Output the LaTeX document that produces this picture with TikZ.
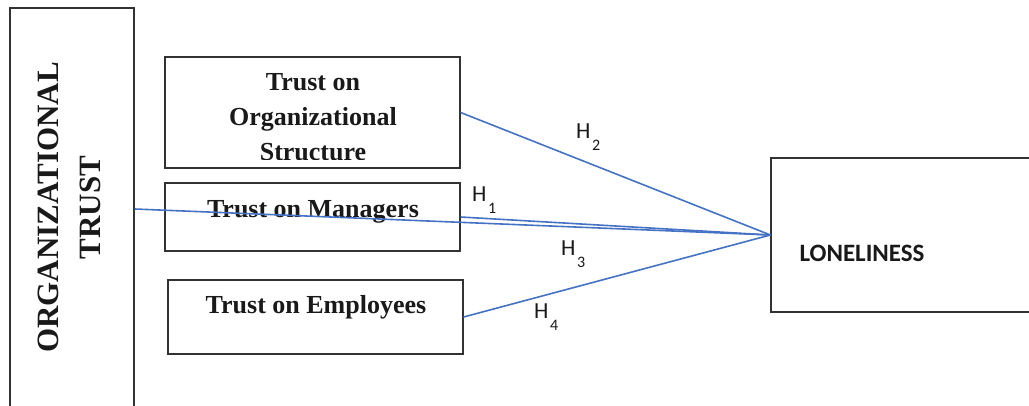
\documentclass[tikz,border=0pt]{standalone}
\usepackage{fontspec}
\setmainfont{Liberation Serif}
\newfontfamily\calib{Carlito}
\definecolor{linkblue}{RGB}{68,114,196}
\definecolor{boxline}{RGB}{50,50,50}
\newcommand\hyplab[1]{H\kern1.5pt\lower11.5pt\hbox{\fontsize{16}{16}\selectfont #1}}
\begin{document}
\begin{tikzpicture}[x=1pt,y=-1pt,
  box/.style={draw=boxline, line width=1.2pt, rectangle, inner sep=0pt},
  lbl/.style={inner sep=0pt, font=\bfseries\fontsize{26}{35}\selectfont, align=center, text=black!90},
  hyp/.style={inner sep=0pt, anchor=base west, font=\calib\fontsize{23}{23}\selectfont, text=black!90},
  link/.style={draw=linkblue, line width=1.6pt}]
\useasboundingbox (0,0) rectangle (1029,406);
% boxes
\node[box, minimum width=124pt, minimum height=402pt] (ot) at (72,209) {};
\node[box, minimum width=295pt, minimum height=111pt] (s1) at (312.5,112.5) {};
\node[box, minimum width=295pt, minimum height=68pt] (s2) at (312.5,217) {};
\node[box, minimum width=295pt, minimum height=74pt] (s3) at (315.5,317) {};
\node[box, minimum width=269pt, minimum height=154pt] (lone) at (905.5,235) {};
% texts
\node[rotate=90, inner sep=0pt, font=\bfseries\fontsize{31}{42}\selectfont, align=center, text=black!90] (otl) at (69,207.5) {ORGANIZATIONAL\\TRUST};
\begin{scope}
  \clip (160,50) rectangle (470,159.5);
  \node[lbl, anchor=north] (s1l) at (313,73) {Trust on\\Organizational\\Structure};
\end{scope}
\node[lbl, anchor=base] (s2l) at (313,218) {Trust on Managers};
\node[lbl, anchor=base] (s3l) at (316,314) {Trust on Employees};
\node[inner sep=0pt, anchor=base, font=\calib\bfseries\fontsize{25}{25}\selectfont, text=black!90] (lonel) at (862,262) {LONELINESS};
% connectors
\draw[link] (ot.east) -- (lone.west);
\draw[link] (s1.east) -- (lone.west);
\draw[link] (s2.east) -- (lone.west);
\draw[link] (s3.east) -- (lone.west);
% hypothesis labels
\node[hyp] (h2) at (576,139) {\hyplab{2}};
\node[hyp] (h1) at (472,202) {\hyplab{1}};
\node[hyp] (h3) at (561,256) {\hyplab{3}};
\node[hyp] (h4) at (534,319) {\hyplab{4}};
\end{tikzpicture}
\end{document}
